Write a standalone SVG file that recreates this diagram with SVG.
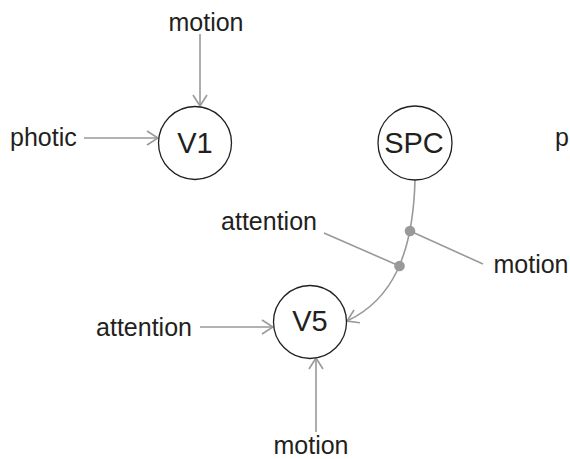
<svg xmlns="http://www.w3.org/2000/svg" width="570" height="459" viewBox="0 0 570 459">
<defs>
<style>
.lbl{font-family:"Liberation Sans",Arial,sans-serif;font-size:25px;fill:#231f20}
.nl{font-family:"Liberation Sans",Arial,sans-serif;font-size:29px;fill:#231f20;text-anchor:middle}
.node{fill:#fff;stroke:#231f20;stroke-width:1.3}
.edge{fill:none;stroke:#999;stroke-width:1.6}
.dot{fill:#999}
</style>
<marker id="ah" markerUnits="userSpaceOnUse" viewBox="0 0 13 16" refX="12" refY="8" markerWidth="13" markerHeight="16" orient="auto">
<path d="M1,1 L12,8 L1,15" fill="none" stroke="#999" stroke-width="1.6"/>
</marker>
</defs>
<g id="connectors">
<path class="edge" d="M200,34 L200,106" marker-end="url(#ah)"/>
<path class="edge" d="M84,138 L158,138" marker-end="url(#ah)"/>
<path class="edge" d="M200,327 L273,327" marker-end="url(#ah)"/>
<path class="edge" d="M316,432 L316,358" marker-end="url(#ah)"/>
<path class="edge" d="M415,180 C413,255 392,300 347,321" marker-end="url(#ah)"/>
<path class="edge" d="M324,233 L399.5,266"/>
<path class="edge" d="M410,231 L483,264"/>
<circle class="dot" cx="410" cy="231" r="5.3"/>
<circle class="dot" cx="399.5" cy="266" r="5.3"/>
</g>
<g id="V1">
<circle class="node" cx="195" cy="143" r="36.5"/>
<text class="nl" x="195" y="152.5">V1</text>
</g>
<g id="SPC">
<circle class="node" cx="415" cy="143" r="37"/>
<text class="nl" x="414" y="152.5">SPC</text>
</g>
<g id="V5">
<circle class="node" cx="310" cy="322" r="36.5"/>
<text class="nl" x="310" y="331">V5</text>
</g>
<g id="labels">
<text class="lbl" x="206" y="31" text-anchor="middle">motion</text>
<text class="lbl" x="10" y="146">photic</text>
<text class="lbl" x="555" y="146">p</text>
<text class="lbl" x="269" y="230" text-anchor="middle">attention</text>
<text class="lbl" x="531" y="273" text-anchor="middle">motion</text>
<text class="lbl" x="144" y="336" text-anchor="middle">attention</text>
<text class="lbl" x="311" y="454" text-anchor="middle">motion</text>
</g>
</svg>
